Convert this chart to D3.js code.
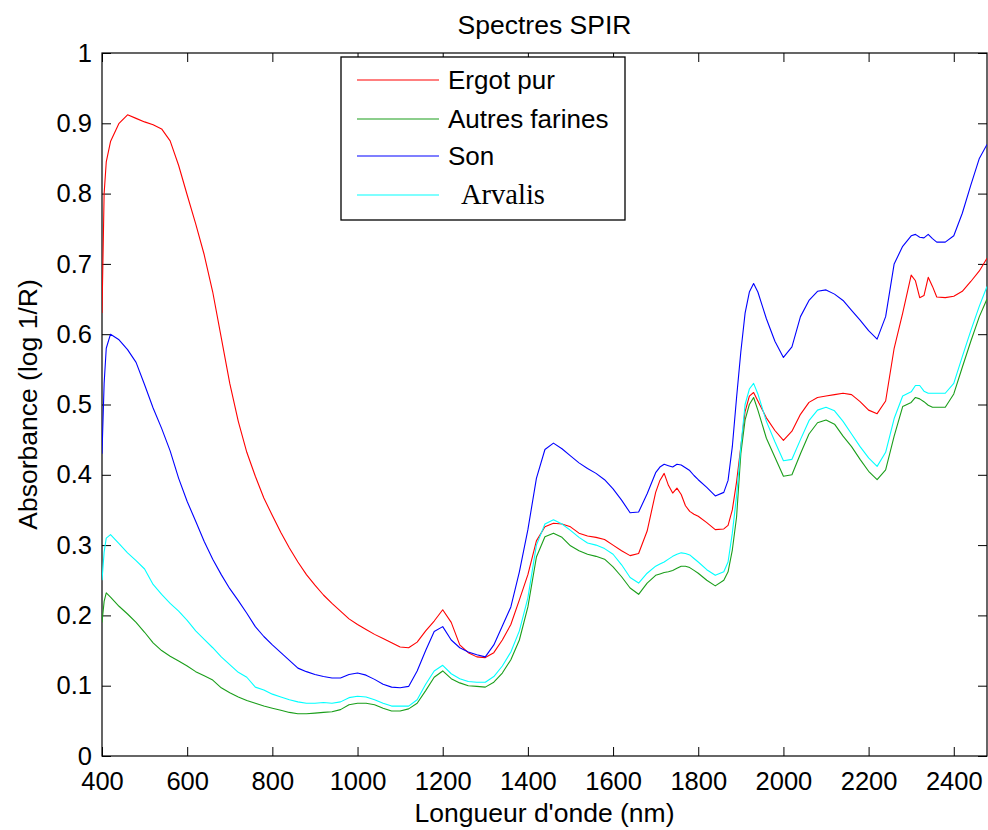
<!DOCTYPE html>
<html>
<head>
<meta charset="utf-8">
<script src="https://cdn.jsdelivr.net/npm/d3@7"></script>
<style>
  html, body { margin: 0; padding: 0; background: #fff; }
  svg { display: block; }
  text { font-family: "Liberation Sans", Arial, sans-serif; fill: #000; }
</style>
</head>
<body>
<svg id="chart" width="988" height="830"></svg>
<script>
// ---------- DATA ----------
const wavelengths = [
  400, 405, 410, 420, 440, 460, 480, 500, 520, 540, 560, 580, 600, 620, 640, 660, 680, 700, 720, 740,
  760, 780, 800, 820, 840, 860, 880, 900, 920, 940, 960, 980, 1000, 1020, 1040, 1060, 1080, 1100, 1120, 1140,
  1160, 1180, 1200, 1220, 1240, 1260, 1280, 1300, 1320, 1340, 1360, 1380, 1400, 1420, 1440, 1460, 1480, 1500, 1520, 1540,
  1560, 1580, 1600, 1620, 1640, 1660, 1680, 1700, 1710, 1720, 1730, 1740, 1750, 1760, 1770, 1780, 1790, 1800, 1820, 1840,
  1860, 1870, 1880, 1890, 1900, 1910, 1920, 1930, 1940, 1960, 1980, 2000, 2020, 2040, 2060, 2080, 2100, 2120, 2140, 2160,
  2180, 2200, 2220, 2240, 2260, 2280, 2300, 2310, 2320, 2330, 2340, 2350, 2360, 2380, 2400, 2420, 2440, 2460, 2478
];

const ergotPur = [
  0.63, 0.80, 0.845, 0.874, 0.900, 0.912, 0.907, 0.902, 0.898, 0.892, 0.875, 0.840, 0.798, 0.757, 0.713, 0.660, 0.595, 0.530, 0.476, 0.432,
  0.398, 0.367, 0.342, 0.318, 0.296, 0.276, 0.258, 0.243, 0.229, 0.217, 0.206, 0.195, 0.187, 0.180, 0.173, 0.167, 0.161, 0.155, 0.154, 0.162,
  0.178, 0.192, 0.208, 0.190, 0.158, 0.147, 0.141, 0.140, 0.147, 0.165, 0.187, 0.222, 0.258, 0.306, 0.326, 0.331, 0.330, 0.326, 0.317, 0.313,
  0.311, 0.308, 0.300, 0.292, 0.285, 0.288, 0.320, 0.375, 0.392, 0.402, 0.385, 0.374, 0.381, 0.372, 0.356, 0.348, 0.344, 0.341, 0.332, 0.322,
  0.323, 0.328, 0.350, 0.390, 0.440, 0.490, 0.512, 0.517, 0.505, 0.481, 0.463, 0.449, 0.462, 0.486, 0.503, 0.510, 0.512, 0.514, 0.516, 0.514,
  0.504, 0.492, 0.487, 0.505, 0.580, 0.630, 0.684, 0.676, 0.652, 0.655, 0.681, 0.668, 0.653, 0.652, 0.654, 0.661, 0.675, 0.690, 0.708
];

const autresFarines = [
  0.19, 0.22, 0.232, 0.226, 0.213, 0.202, 0.190, 0.176, 0.161, 0.150, 0.142, 0.135, 0.128, 0.120, 0.114, 0.108, 0.097, 0.090, 0.084, 0.079,
  0.075, 0.071, 0.068, 0.065, 0.062, 0.060, 0.060, 0.061, 0.062, 0.063, 0.066, 0.073, 0.075, 0.075, 0.073, 0.068, 0.064, 0.064, 0.067, 0.075,
  0.093, 0.112, 0.121, 0.110, 0.104, 0.100, 0.099, 0.098, 0.105, 0.118, 0.137, 0.165, 0.212, 0.283, 0.312, 0.317, 0.311, 0.299, 0.292, 0.287,
  0.284, 0.280, 0.269, 0.255, 0.239, 0.230, 0.246, 0.257, 0.259, 0.261, 0.262, 0.264, 0.267, 0.270, 0.270, 0.268, 0.264, 0.260, 0.250, 0.242,
  0.250, 0.262, 0.293, 0.340, 0.430, 0.478, 0.500, 0.510, 0.492, 0.452, 0.425, 0.398, 0.400, 0.430, 0.458, 0.474, 0.478, 0.472, 0.455, 0.440,
  0.422, 0.405, 0.393, 0.407, 0.455, 0.497, 0.503, 0.510, 0.508, 0.504, 0.499, 0.496, 0.496, 0.496, 0.515, 0.553, 0.590, 0.625, 0.650
];

const son = [
  0.43, 0.53, 0.58, 0.600, 0.592, 0.578, 0.560, 0.528, 0.495, 0.466, 0.434, 0.395, 0.362, 0.334, 0.305, 0.280, 0.258, 0.238, 0.221, 0.203,
  0.184, 0.170, 0.158, 0.147, 0.136, 0.125, 0.120, 0.116, 0.113, 0.111, 0.111, 0.116, 0.118, 0.115, 0.109, 0.102, 0.098, 0.097, 0.099, 0.121,
  0.150, 0.177, 0.184, 0.165, 0.154, 0.148, 0.144, 0.141, 0.158, 0.185, 0.212, 0.262, 0.322, 0.395, 0.436, 0.445, 0.437, 0.427, 0.417, 0.409,
  0.402, 0.393, 0.380, 0.364, 0.346, 0.347, 0.373, 0.403, 0.411, 0.415, 0.413, 0.411, 0.415, 0.414, 0.410, 0.406, 0.399, 0.393, 0.382, 0.370,
  0.375, 0.392, 0.440, 0.510, 0.575, 0.630, 0.660, 0.672, 0.660, 0.622, 0.590, 0.567, 0.582, 0.625, 0.648, 0.661, 0.663, 0.657, 0.648, 0.634,
  0.620, 0.605, 0.593, 0.625, 0.700, 0.725, 0.740, 0.742, 0.738, 0.737, 0.742, 0.736, 0.731, 0.731, 0.740, 0.772, 0.812, 0.850, 0.870
];

const arvalis = [
  0.25, 0.29, 0.31, 0.315, 0.302, 0.289, 0.278, 0.266, 0.244, 0.230, 0.217, 0.206, 0.193, 0.178, 0.166, 0.154, 0.141, 0.130, 0.119, 0.112,
  0.098, 0.094, 0.088, 0.084, 0.080, 0.077, 0.075, 0.075, 0.076, 0.075, 0.077, 0.083, 0.085, 0.084, 0.080, 0.075, 0.071, 0.071, 0.071, 0.080,
  0.102, 0.121, 0.129, 0.117, 0.110, 0.106, 0.105, 0.105, 0.113, 0.128, 0.148, 0.178, 0.225, 0.300, 0.330, 0.336, 0.330, 0.321, 0.311, 0.303,
  0.300, 0.295, 0.287, 0.272, 0.254, 0.246, 0.260, 0.270, 0.273, 0.276, 0.280, 0.284, 0.287, 0.289, 0.288, 0.286, 0.281, 0.276, 0.265, 0.257,
  0.262, 0.276, 0.317, 0.370, 0.440, 0.500, 0.522, 0.530, 0.515, 0.476, 0.447, 0.420, 0.422, 0.450, 0.477, 0.492, 0.496, 0.491, 0.476, 0.458,
  0.440, 0.424, 0.412, 0.432, 0.480, 0.512, 0.518, 0.527, 0.527, 0.519, 0.516, 0.516, 0.516, 0.516, 0.530, 0.568, 0.605, 0.640, 0.668
];

const seriesNames = ["Ergot pur", "Autres farines", "Son", "Arvalis"];
const seriesColors = ["#ff0000", "#1a9e1a", "#0000ff", "#00ffff"];
const seriesValues = [ergotPur, autresFarines, son, arvalis];

const xTicks = [400, 600, 800, 1000, 1200, 1400, 1600, 1800, 2000, 2200, 2400];
const yTicks = [0, 0.1, 0.2, 0.3, 0.4, 0.5, 0.6, 0.7, 0.8, 0.9, 1];
const yTickLabels = ["0", "0.1", "0.2", "0.3", "0.4", "0.5", "0.6", "0.7", "0.8", "0.9", "1"];

const titleText = "Spectres SPIR";
const xLabelText = "Longueur d'onde (nm)";
const yLabelText = "Absorbance (log 1/R)";

// ---------- LAYOUT ----------
const svg = d3.select("#chart");
const pL = 102, pR = 987, pT = 53, pB = 756;
const x = d3.scaleLinear().domain([400, 2478]).range([pL, pR]);
const y = d3.scaleLinear().domain([0, 1]).range([pB, pT]);
const tickLen = 9;
const tickFont = 25.5;
const labelFont = 26.5;

svg.append("defs").append("clipPath").attr("id", "clip")
  .append("rect").attr("x", pL).attr("y", pT).attr("width", pR - pL).attr("height", pB - pT);

const axB = svg.append("g").attr("transform", `translate(0,${pB})`)
  .call(d3.axisBottom(x).tickValues(xTicks).tickSize(-tickLen).tickPadding(16).tickFormat(d3.format("d")));
const axT = svg.append("g").attr("transform", `translate(0,${pT})`)
  .call(d3.axisTop(x).tickValues(xTicks).tickSize(-tickLen).tickFormat(""));
const axL = svg.append("g").attr("transform", `translate(${pL},0)`)
  .call(d3.axisLeft(y).tickValues(yTicks).tickSize(-tickLen).tickPadding(10)
    .tickFormat((d, i) => yTickLabels[i]));
const axR = svg.append("g").attr("transform", `translate(${pR},0)`)
  .call(d3.axisRight(y).tickValues(yTicks).tickSize(-tickLen).tickFormat(""));

[axB, axT, axL, axR].forEach(g => {
  g.select(".domain").remove();
  g.selectAll(".tick line").attr("stroke", "#000").attr("stroke-width", 1);
  g.selectAll("text").style("font-family", '"Liberation Sans", Arial, sans-serif')
    .style("font-size", tickFont + "px").attr("fill", "#000");
});

svg.append("rect").attr("x", pL).attr("y", pT).attr("width", pR - pL).attr("height", pB - pT)
  .attr("fill", "none").attr("stroke", "#000").attr("stroke-width", 1.2);

const lineGen = vals => d3.line()
  .x((d, i) => x(wavelengths[i]))
  .y(d => y(d))(vals);

const plot = svg.append("g").attr("clip-path", "url(#clip)");
seriesValues.forEach((vals, k) => {
  plot.append("path")
    .attr("d", lineGen(vals.slice(0, wavelengths.length)))
    .attr("fill", "none")
    .attr("stroke", seriesColors[k])
    .attr("stroke-width", 1.1)
    .attr("stroke-linejoin", "round");
});

svg.append("text").attr("x", (pL + pR) / 2).attr("y", 34).attr("text-anchor", "middle")
  .style("font-size", labelFont + "px").text(titleText);
svg.append("text").attr("x", (pL + pR) / 2).attr("y", 822).attr("text-anchor", "middle")
  .style("font-size", labelFont + "px").text(xLabelText);
svg.append("text").attr("transform", `translate(37,${(pT + pB) / 2}) rotate(-90)`).attr("text-anchor", "middle")
  .style("font-size", labelFont + "px").text(yLabelText);

const leg = svg.append("g");
leg.append("rect").attr("x", 341).attr("y", 57).attr("width", 284).attr("height", 163)
  .attr("fill", "#fff").attr("stroke", "#000").attr("stroke-width", 1.3);
const legY = [80, 119, 156, 195];
seriesNames.forEach((name, k) => {
  leg.append("line").attr("x1", 357).attr("x2", 439).attr("y1", legY[k]).attr("y2", legY[k])
    .attr("stroke", seriesColors[k]).attr("stroke-width", 1.1);
  const t = leg.append("text").attr("y", legY[k] + 9).text(name);
  if (name === "Arvalis") {
    t.attr("x", 461).style("font-family", '"Liberation Serif", "Times New Roman", serif').style("font-size", "28.5px");
  } else {
    t.attr("x", 448).style("font-size", "26px");
  }
});
</script>
</body>
</html>
